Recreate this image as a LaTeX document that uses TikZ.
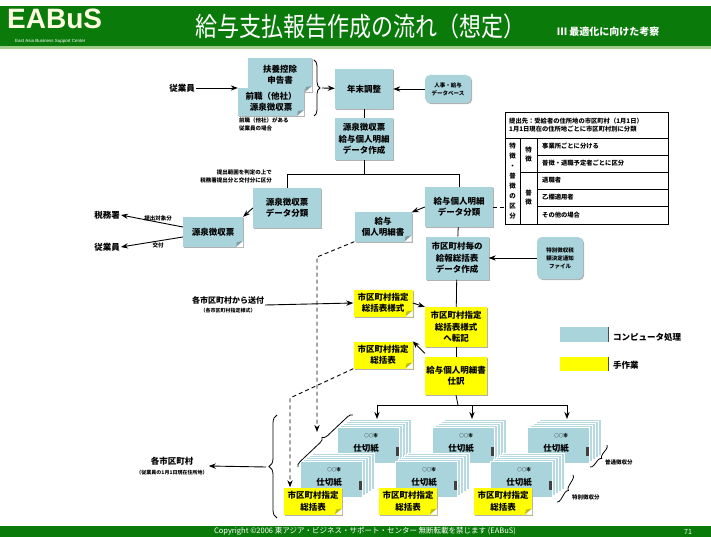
\documentclass[tikz,border=0pt]{standalone}
\usepackage{fontspec}
\setmainfont{Noto Sans CJK JP}
\newfontfamily\latinfont{Liberation Sans}
\usetikzlibrary{positioning,arrows.meta,shadows,decorations.pathreplacing,calc}
\definecolor{pcblue}{RGB}{170,212,220}
\definecolor{manyel}{RGB}{255,255,0}
\definecolor{hdgreen}{RGB}{10,122,10}
\definecolor{hdline}{RGB}{160,205,140}
\newcommand{\boxfont}{\fontsize{8.5}{11.5}\selectfont\bfseries}
\newcommand{\notefont}{\fontsize{5.5}{8}\selectfont\bfseries}
\newcommand{\tblfont}{\fontsize{6.3}{8}\selectfont\bfseries}

\begin{document}
\begin{tikzpicture}[
  x=1pt, y=-1pt,
  >=Stealth,
  every node/.style={align=center, inner sep=1pt},
  pc/.style   ={fill=pcblue, font=\boxfont, minimum width=58pt, minimum height=40pt,
                general shadow={fill=black!30, shadow xshift=1.2pt, shadow yshift=-1.2pt}},
  man/.style  ={pc, fill=manyel},
  fold/.style ={path picture={
                  \fill[white] (path picture bounding box.south east) -- ++(-7pt,0pt) -- ++(7pt,6pt) -- cycle;
                  \fill[black, opacity=0.25] (path picture bounding box.south east) ++(-7pt,0pt)
                    -- ++(7pt,6pt) -- ++(-6pt,-1pt) -- cycle;}},
  dbase/.style={pc, rounded corners=5pt, font=\notefont},
  txt/.style  ={font=\fontsize{8.5}{10}\selectfont\bfseries},
  note/.style ={font=\notefont},
  arr/.style  ={->, line width=0.9pt},
  ln/.style   ={line width=0.8pt},
  dsh/.style  ={line width=0.9pt, dash pattern=on 4pt off 3pt},
  brc/.style  ={ln, decorate},
  sheetstack/.pic={
    \foreach \i in {4,3,2,1}
      \filldraw[fill=pcblue!85!white, draw=white, line width=0.7pt]
        ({-31+3*\i},{-18-2*\i}) rectangle ({31+3*\i},{18-2*\i});
    \filldraw[fill=pcblue, draw=white, line width=0.7pt] (-31,-18) rectangle (31,18);
    \fill[black!75] (28,2) rectangle (31,11);
    \node[font=\fontsize{4.5}{5}\selectfont\bfseries] (-city) at (3,-9) {○○市};
    \node[font=\boxfont] (-sheet) at (-2,3) {仕切紙};
    \coordinate (-top) at (9,-26);
  },
]
\useasboundingbox (0,0) rectangle (711,537);
\fill[white] (0,0) rectangle (711,537);

%% header band
\fill[hdgreen] (0,6) rectangle (711,46);
\fill[hdline] (0,46) rectangle (711,49);
\node[font=\latinfont\fontsize{28}{28}\selectfont\bfseries, text=yellow!12, anchor=west] (logo) at (6,19) {EABuS};
\node[font=\latinfont\fontsize{4.5}{5}\selectfont, text=white, anchor=west] (logosub) at (14,41.5) {East Asia Business Support Center};
\node[font=\fontsize{22}{24}\selectfont, text=white] (title) at (360,26) {\scalebox{1}[1.2]{給与支払報告作成の流れ（想定）}};
\node[font=\fontsize{10}{12}\selectfont\bfseries, text=white, anchor=west] (chapter) at (556,32) {Ⅲ 最適化に向けた考察};

%% year-end adjustment
\node[txt] (jugyoin) at (182,88) {従業員};
\node[pc, fold, minimum width=64pt, minimum height=34pt] (fuyo) at (280,75) {扶養控除\\申告書};
\node[pc, fold, minimum width=66pt, minimum height=28pt] (zenshoku) at (271,102) {前職（他社）\\源泉徴収票};
\node[note, anchor=north west, align=left] (zennote) at (238,116) {前職（他社）がある\\従業員の場合};
\draw[arr] (jugyoin) -- (jugyoin -| zenshoku.west);
\draw[brc, decoration={brace, amplitude=6pt}] (314,60) -- (314,116);
\coordinate (brtip) at (322,88);

\node[pc] (nencho) at (364,89) {年末調整};
\node[dbase, minimum width=46pt, minimum height=28pt] (jinji) at (448,89) {人事・給与\\データベース};
\draw[arr] (brtip) -- (nencho);
\draw[arr] (jinji) -- (nencho);

\node[pc, minimum height=42pt] (srcdata) at (364,139) {源泉徴収票\\給与個人明細\\データ作成};
\draw[ln] (nencho) -- (srcdata);

%% split into withholding slips / individual statements
\node[pc, minimum width=68pt] (gensen_bunrui) at (287,208) {源泉徴収票\\データ分類};
\node[pc, minimum width=68pt] (kyuyo_bunrui) at (459,207) {給与個人明細\\データ分類};
\draw[ln] (srcdata.south) -- ++(0,14) -| (gensen_bunrui.north);
\draw[ln] (srcdata.south) -- ++(0,14) -| (kyuyo_bunrui.north);
\node[note, anchor=east, align=right] (bunrui_note) at (273,176) {提出範囲を判定の上で\\税務署提出分と交付分に区分};

\node[pc, fold, minimum width=60pt, minimum height=30pt] (gensen_doc) at (213,232) {源泉徴収票};
\node[txt] (zeimusho) at (107,215) {税務署};
\node[txt] (jugyoin2) at (107,247) {従業員};
\draw[arr] (gensen_bunrui.west) -- (gensen_doc.north east);
\draw[arr] ([yshift=5pt]gensen_doc.west) -- node[note, above, pos=0.4] {提出対象分} (zeimusho.east);
\draw[arr] ([yshift=-5pt]gensen_doc.west) -- node[note, below, pos=0.4] {交付} (jugyoin2.east);

\node[pc, fold, minimum width=57pt, minimum height=29pt] (meisai_doc) at (383,227) {給与\\個人明細書};
\draw[arr] (kyuyo_bunrui.west) -- (meisai_doc.north east);

%% collection category table
\node[draw, line width=0.8pt, minimum width=163pt, minimum height=112pt, inner sep=0pt, anchor=north west] (tbl) at (505,112) {};
\draw[ln] (505,138) -- (668,138);
\draw[ln] (520,138) -- (520,224);
\draw[ln] (537,138) -- (537,224);
\draw[ln] (520,172) -- (537,172);
\foreach \yy in {155,172,189,206} \draw[ln] (537,\yy) -- (668,\yy);
\node[font=\tblfont, align=left, anchor=west] (tbl_head) at (508,125)
  {提出先：受給者の住所地の市区町村（1月1日）\\1月1日現在の住所地ごとに市区町村別に分類};
\node[font=\fontsize{6.5}{10}\selectfont\bfseries] (col_kubun) at (512.5,181) {特\\徴\\・\\普\\徴\\の\\区\\分};
\node[font=\fontsize{6.5}{9}\selectfont\bfseries] (col_tokucho) at (528.5,155) {特\\徴};
\node[font=\fontsize{6.5}{9}\selectfont\bfseries] (col_fucho) at (528.5,198) {普\\徴};
\node[font=\tblfont, anchor=west] (row1) at (541,146.5) {事業所ごとに分ける};
\node[font=\tblfont, anchor=west] (row2) at (541,163.5) {普徴・退職予定者ごとに区分};
\node[font=\tblfont, anchor=west] (row3) at (541,180.5) {退職者};
\node[font=\tblfont, anchor=west] (row4) at (541,197.5) {乙欄適用者};
\node[font=\tblfont, anchor=west] (row5) at (541,215) {その他の場合};
\draw[dsh] (kyuyo_bunrui.east) -- (kyuyo_bunrui.east -| tbl.west);

%% summary sheet per municipality
\node[pc, minimum width=63pt, minimum height=43pt] (sokatsu_data) at (457,258) {市区町村毎の\\給報総括表\\データ作成};
\node[dbase, minimum width=46pt, minimum height=42pt] (tokucho_file) at (560,258) {特別徴収税\\額決定通知\\ファイル};
\draw[ln] (kyuyo_bunrui) -- (sokatsu_data);
\draw[arr] (tokucho_file) -- (sokatsu_data);

\node[man, fold, minimum width=59pt, minimum height=27pt] (yoshiki_doc) at (383,303) {市区町村指定\\総括表様式};
\node[man, minimum width=62pt, minimum height=40pt] (tenki) at (456,327) {市区町村指定\\総括表様式\\へ転記};
\node[man, fold, minimum width=59pt, minimum height=27pt] (sokatsu_doc) at (383,355) {市区町村指定\\総括表};
\node[man, minimum width=62pt, minimum height=38pt] (shiwake) at (456,376) {給与個人明細書\\仕訳};
\node[txt, font=\fontsize{8}{9}\selectfont\bfseries] (okuri) at (228,305) {各市区町村から送付\\{\fontsize{5}{6}\selectfont （各市区町村指定様式）}};
\draw[ln] (sokatsu_data) -- (tenki);
\draw[arr] (okuri.east) -- (yoshiki_doc.west);
\draw[arr] (yoshiki_doc.east) -- (tenki.north west);
\draw[arr] ([yshift=-6pt]tenki.south west) -- (sokatsu_doc.north east);
\draw[ln] (tenki) -- (shiwake);

%% sorted bundles for each municipality
\pic (g1b) at (368,445) {sheetstack};
\pic (g2b) at (463,445) {sheetstack};
\pic (g3b) at (558,445) {sheetstack};
\pic (g1f) at (331,479) {sheetstack};
\pic (g2f) at (426,479) {sheetstack};
\pic (g3f) at (521,479) {sheetstack};
\node[man, fold, minimum width=58pt, minimum height=27pt] (ydoc1) at (313,501) {市区町村指定\\総括表};
\node[man, fold, minimum width=58pt, minimum height=27pt] (ydoc2) at (408,501) {市区町村指定\\総括表};
\node[man, fold, minimum width=58pt, minimum height=27pt] (ydoc3) at (503,501) {市区町村指定\\総括表};

\coordinate (tree) at (458,405);
\draw[ln] (shiwake.south) -- (tree);
\draw[arr] (tree) -| (g1b-top);
\draw[arr] (tree) -| (g2b-top);
\draw[arr] (tree) -| (g3b-top);

\draw[brc, decoration={brace, amplitude=4pt}] (607,445) -- (590,467);
\node[note, anchor=west] (fucho_lbl) at (604,462) {普通徴収分};
\draw[brc, decoration={brace, amplitude=4pt}] (573,475) -- (557,502);
\node[note, anchor=west] (tokucho_lbl) at (571,497) {特別徴収分};

%% dashed feeds into the bundles
\draw[brc, decoration={brace, amplitude=5pt}] (298,467) -- (353,415);
\coordinate (d1) at (317,257);
\coordinate (d1end) at (317,432);
\draw[dsh, ->] (meisai_doc.south west) -- (d1) -- (d1end);
\coordinate (d2) at (290,398);
\draw[dsh, ->] (sokatsu_doc.south west) -- (d2) -- (d2 |- ydoc1.north);

%% delivery to municipalities
\draw[brc, decoration={brace, amplitude=8pt}] (277,518) -- (277,415);
\coordinate (bigtip) at (266,467);
\node[txt] (kakushi) at (172,466) {各市区町村\\{\fontsize{5}{6}\selectfont （従業員の1月1日現在住所地）}};
\draw[arr] (bigtip) -- (kakushi.east);

%% legend
\node[fill=pcblue, minimum width=48pt, minimum height=15pt] (leg_pc) at (584,334.5) {};
\node[fill=manyel, minimum width=48pt, minimum height=14pt] (leg_man) at (584,364) {};
\draw[line width=1pt, black!70] (leg_pc.north east) -- (leg_pc.south east);
\draw[line width=1pt, black!70] (leg_man.north east) -- (leg_man.south east);
\node[txt, anchor=west] (leg_pc_lbl) at (612,337) {コンピュータ処理};
\node[txt, anchor=west] (leg_man_lbl) at (612,365) {手作業};

%% footer band
\fill[hdgreen] (0,526) rectangle (711,537);
\node[font=\fontsize{7.5}{8}\selectfont, text=white] (copy) at (365,531.5) {Copyright ©2006 東アジア・ビジネス・サポート・センター 無断転載を禁じます (EABuS)};
\node[font=\fontsize{7}{8}\selectfont, text=white] (pageno) at (688,531.5) {71};
\end{tikzpicture}
\end{document}
